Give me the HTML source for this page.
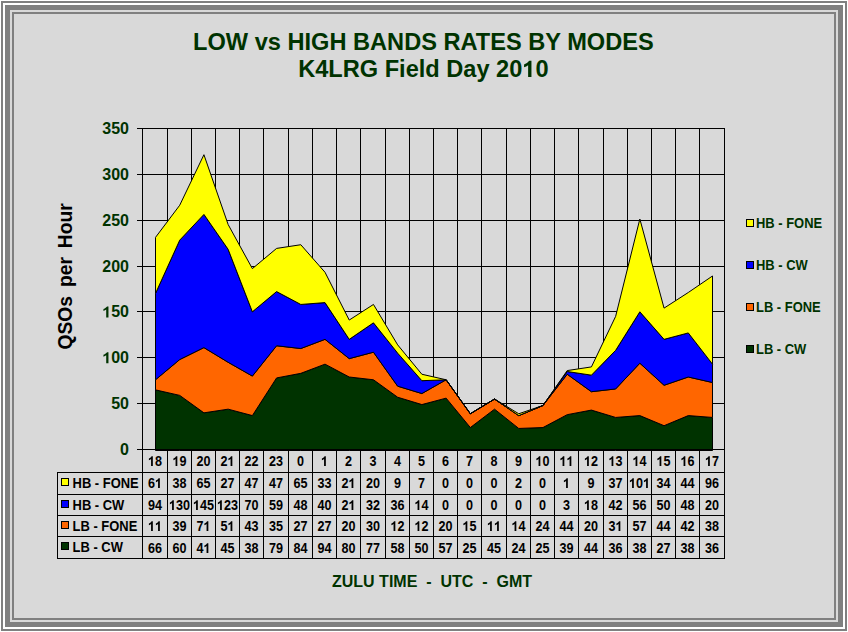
<!DOCTYPE html>
<html><head><meta charset="utf-8"><style>
html,body{margin:0;padding:0;background:#fff;width:848px;height:632px;overflow:hidden}
svg{display:block}
text{font-family:"Liberation Sans",sans-serif;font-weight:bold}
</style></head><body>
<svg width="848" height="632" viewBox="0 0 848 632">
<rect x="0" y="0" width="848" height="632" fill="#fff"/>
<rect x="1" y="1" width="846" height="630" fill="#808080"/>
<rect x="3" y="3" width="842" height="626" fill="#fff"/>
<rect x="5" y="5" width="838" height="622" fill="#808080"/>
<rect x="10" y="10" width="828" height="612" fill="#d9d9d9"/>
<rect x="12" y="12" width="824" height="608" fill="#808080"/>
<rect x="14" y="14" width="820" height="604" fill="#d9d9d9"/>

<text x="423.4" y="50" text-anchor="middle" font-size="23.6" fill="#003300">LOW vs HIGH BANDS RATES BY MODES</text>
<text id="t2" x="423.4" y="77" text-anchor="middle" font-size="23.6" fill="#003300">K4LRG Field Day 20&#x2007;0</text>
<path fill="#003300" transform="translate(522.369,77) scale(0.011523,-0.011523)" d="M788 0H499V1027C400 945 280 880 146 838V1086C250 1120 380 1190 470 1280C530 1340 575 1380 604 1409H788Z"/>
<g shape-rendering="crispEdges" stroke="#000" stroke-width="1">
<line x1="137" y1="449.5" x2="725" y2="449.5"/>
<line x1="137" y1="403.5" x2="725" y2="403.5"/>
<line x1="137" y1="357.5" x2="725" y2="357.5"/>
<line x1="137" y1="311.5" x2="725" y2="311.5"/>
<line x1="137" y1="266.5" x2="725" y2="266.5"/>
<line x1="137" y1="220.5" x2="725" y2="220.5"/>
<line x1="137" y1="174.5" x2="725" y2="174.5"/>
<line x1="137" y1="128.5" x2="725" y2="128.5"/>
<line x1="142.5" y1="128" x2="142.5" y2="558"/>
<line x1="167.5" y1="128" x2="167.5" y2="558"/>
<line x1="191.5" y1="128" x2="191.5" y2="558"/>
<line x1="215.5" y1="128" x2="215.5" y2="558"/>
<line x1="239.5" y1="128" x2="239.5" y2="558"/>
<line x1="263.5" y1="128" x2="263.5" y2="558"/>
<line x1="288.5" y1="128" x2="288.5" y2="558"/>
<line x1="312.5" y1="128" x2="312.5" y2="558"/>
<line x1="336.5" y1="128" x2="336.5" y2="558"/>
<line x1="360.5" y1="128" x2="360.5" y2="558"/>
<line x1="385.5" y1="128" x2="385.5" y2="558"/>
<line x1="409.5" y1="128" x2="409.5" y2="558"/>
<line x1="433.5" y1="128" x2="433.5" y2="558"/>
<line x1="457.5" y1="128" x2="457.5" y2="558"/>
<line x1="481.5" y1="128" x2="481.5" y2="558"/>
<line x1="506.5" y1="128" x2="506.5" y2="558"/>
<line x1="530.5" y1="128" x2="530.5" y2="558"/>
<line x1="554.5" y1="128" x2="554.5" y2="558"/>
<line x1="578.5" y1="128" x2="578.5" y2="558"/>
<line x1="603.5" y1="128" x2="603.5" y2="558"/>
<line x1="627.5" y1="128" x2="627.5" y2="558"/>
<line x1="651.5" y1="128" x2="651.5" y2="558"/>
<line x1="675.5" y1="128" x2="675.5" y2="558"/>
<line x1="699.5" y1="128" x2="699.5" y2="558"/>
<line x1="724.5" y1="128" x2="724.5" y2="558"/>
</g>
<polygon points="155.50,389.87 179.72,395.38 203.93,412.84 228.15,409.16 252.37,415.59 276.59,377.93 300.80,373.34 325.02,364.15 349.24,377.01 373.46,379.77 397.67,397.22 421.89,404.57 446.11,398.14 470.33,427.54 494.54,409.16 518.76,428.45 542.98,427.54 567.20,414.67 591.41,410.08 615.63,417.43 639.85,415.59 664.07,425.70 688.28,415.59 712.50,417.43 712.50,450.50 688.28,450.50 664.07,450.50 639.85,450.50 615.63,450.50 591.41,450.50 567.20,450.50 542.98,450.50 518.76,450.50 494.54,450.50 470.33,450.50 446.11,450.50 421.89,450.50 397.67,450.50 373.46,450.50 349.24,450.50 325.02,450.50 300.80,450.50 276.59,450.50 252.37,450.50 228.15,450.50 203.93,450.50 179.72,450.50 155.50,450.50" fill="#003300" stroke="#000" stroke-width="1" stroke-linejoin="miter"/>
<polygon points="155.50,379.77 179.72,359.56 203.93,347.62 228.15,362.31 252.37,376.09 276.59,345.78 300.80,348.54 325.02,339.35 349.24,358.64 373.46,352.21 397.67,386.20 421.89,393.55 446.11,379.77 470.33,413.76 494.54,399.06 518.76,415.59 542.98,405.49 567.20,374.26 591.41,391.71 615.63,388.95 639.85,363.23 664.07,385.28 688.28,377.01 712.50,382.52 712.50,417.43 688.28,415.59 664.07,425.70 639.85,415.59 615.63,417.43 591.41,410.08 567.20,414.67 542.98,427.54 518.76,428.45 494.54,409.16 470.33,427.54 446.11,398.14 421.89,404.57 397.67,397.22 373.46,379.77 349.24,377.01 325.02,364.15 300.80,373.34 276.59,377.93 252.37,415.59 228.15,409.16 203.93,412.84 179.72,395.38 155.50,389.87" fill="#ff6600" stroke="#000" stroke-width="1" stroke-linejoin="miter"/>
<polygon points="155.50,293.42 179.72,240.14 203.93,214.42 228.15,249.33 252.37,311.79 276.59,291.58 300.80,304.44 325.02,302.61 349.24,339.35 373.46,322.81 397.67,353.13 421.89,380.69 446.11,379.77 470.33,413.76 494.54,399.06 518.76,415.59 542.98,405.49 567.20,371.50 591.41,375.17 615.63,350.37 639.85,311.79 664.07,339.35 688.28,332.92 712.50,364.15 712.50,382.52 688.28,377.01 664.07,385.28 639.85,363.23 615.63,388.95 591.41,391.71 567.20,374.26 542.98,405.49 518.76,415.59 494.54,399.06 470.33,413.76 446.11,379.77 421.89,393.55 397.67,386.20 373.46,352.21 349.24,358.64 325.02,339.35 300.80,348.54 276.59,345.78 252.37,376.09 228.15,362.31 203.93,347.62 179.72,359.56 155.50,379.77" fill="#0000ff" stroke="#000" stroke-width="1" stroke-linejoin="miter"/>
<polygon points="155.50,237.38 179.72,205.23 203.93,154.71 228.15,224.52 252.37,268.62 276.59,248.41 300.80,244.73 325.02,272.29 349.24,320.06 373.46,304.44 397.67,344.86 421.89,374.26 446.11,379.77 470.33,413.76 494.54,399.06 518.76,413.76 542.98,405.49 567.20,370.58 591.41,366.91 615.63,316.38 639.85,219.01 664.07,308.12 688.28,292.50 712.50,275.97 712.50,364.15 688.28,332.92 664.07,339.35 639.85,311.79 615.63,350.37 591.41,375.17 567.20,371.50 542.98,405.49 518.76,415.59 494.54,399.06 470.33,413.76 446.11,379.77 421.89,380.69 397.67,353.13 373.46,322.81 349.24,339.35 325.02,302.61 300.80,304.44 276.59,291.58 252.37,311.79 228.15,249.33 203.93,214.42 179.72,240.14 155.50,293.42" fill="#ffff00" stroke="#000" stroke-width="1" stroke-linejoin="miter"/>
<g shape-rendering="crispEdges" stroke="#000"><line x1="137" y1="449.5" x2="725" y2="449.5"/><line x1="142.5" y1="128" x2="142.5" y2="558"/></g>
<g transform="translate(129.00,455.00) scale(1,1)" fill="#003300"><text x="-8.898" y="0" font-size="16">0</text></g>
<g transform="translate(129.00,409.14) scale(1,1)" fill="#003300"><text x="-17.797" y="0" font-size="16">50</text></g>
<g transform="translate(129.00,363.29) scale(1,1)" fill="#003300"><text x="-26.695" y="0" font-size="16">&#x2007;00</text><path transform="translate(-26.695,0) scale(0.007812,-0.007812)" d="M788 0H499V1027C400 945 280 880 146 838V1086C250 1120 380 1190 470 1280C530 1340 575 1380 604 1409H788Z"/></g>
<g transform="translate(129.00,317.43) scale(1,1)" fill="#003300"><text x="-26.695" y="0" font-size="16">&#x2007;50</text><path transform="translate(-26.695,0) scale(0.007812,-0.007812)" d="M788 0H499V1027C400 945 280 880 146 838V1086C250 1120 380 1190 470 1280C530 1340 575 1380 604 1409H788Z"/></g>
<g transform="translate(129.00,271.57) scale(1,1)" fill="#003300"><text x="-26.695" y="0" font-size="16">200</text></g>
<g transform="translate(129.00,225.71) scale(1,1)" fill="#003300"><text x="-26.695" y="0" font-size="16">250</text></g>
<g transform="translate(129.00,179.86) scale(1,1)" fill="#003300"><text x="-26.695" y="0" font-size="16">300</text></g>
<g transform="translate(129.00,134.00) scale(1,1)" fill="#003300"><text x="-26.695" y="0" font-size="16">350</text></g>
<text transform="translate(71.6,322.8) rotate(-90)" text-anchor="middle" font-size="19.3" fill="#000">QSOs</text>
<text transform="translate(71.6,272.1) rotate(-90)" text-anchor="middle" font-size="19.3" fill="#000">per</text>
<text transform="translate(71.6,225.8) rotate(-90)" text-anchor="middle" font-size="19.3" fill="#000">Hour</text>
<g shape-rendering="crispEdges" stroke="#000" stroke-width="1">
<line x1="57" y1="472.5" x2="725" y2="472.5"/>
<line x1="57" y1="494.5" x2="725" y2="494.5"/>
<line x1="57" y1="515.5" x2="725" y2="515.5"/>
<line x1="57" y1="536.5" x2="725" y2="536.5"/>
<line x1="57" y1="558.5" x2="725" y2="558.5"/>
<line x1="57.5" y1="472" x2="57.5" y2="559"/>
</g>
<g transform="translate(155.00,466.00) scale(0.9,1)" fill="#000"><text x="-7.786" y="0" font-size="14">&#x2007;8</text><path transform="translate(-7.786,0) scale(0.006836,-0.006836)" d="M788 0H499V1027C400 945 280 880 146 838V1086C250 1120 380 1190 470 1280C530 1340 575 1380 604 1409H788Z"/></g>
<g transform="translate(179.50,466.00) scale(0.9,1)" fill="#000"><text x="-7.786" y="0" font-size="14">&#x2007;9</text><path transform="translate(-7.786,0) scale(0.006836,-0.006836)" d="M788 0H499V1027C400 945 280 880 146 838V1086C250 1120 380 1190 470 1280C530 1340 575 1380 604 1409H788Z"/></g>
<g transform="translate(203.50,466.00) scale(0.9,1)" fill="#000"><text x="-7.786" y="0" font-size="14">20</text></g>
<g transform="translate(227.50,466.00) scale(0.9,1)" fill="#000"><text x="-7.786" y="0" font-size="14">2&#x2007;</text><path transform="translate(0.000,0) scale(0.006836,-0.006836)" d="M788 0H499V1027C400 945 280 880 146 838V1086C250 1120 380 1190 470 1280C530 1340 575 1380 604 1409H788Z"/></g>
<g transform="translate(251.50,466.00) scale(0.9,1)" fill="#000"><text x="-7.786" y="0" font-size="14">22</text></g>
<g transform="translate(276.00,466.00) scale(0.9,1)" fill="#000"><text x="-7.786" y="0" font-size="14">23</text></g>
<g transform="translate(300.50,466.00) scale(0.9,1)" fill="#000"><text x="-3.893" y="0" font-size="14">0</text></g>
<g transform="translate(324.50,466.00) scale(0.9,1)" fill="#000"><text x="-3.893" y="0" font-size="14">&#x2007;</text><path transform="translate(-3.893,0) scale(0.006836,-0.006836)" d="M788 0H499V1027C400 945 280 880 146 838V1086C250 1120 380 1190 470 1280C530 1340 575 1380 604 1409H788Z"/></g>
<g transform="translate(348.50,466.00) scale(0.9,1)" fill="#000"><text x="-3.893" y="0" font-size="14">2</text></g>
<g transform="translate(373.00,466.00) scale(0.9,1)" fill="#000"><text x="-3.893" y="0" font-size="14">3</text></g>
<g transform="translate(397.50,466.00) scale(0.9,1)" fill="#000"><text x="-3.893" y="0" font-size="14">4</text></g>
<g transform="translate(421.50,466.00) scale(0.9,1)" fill="#000"><text x="-3.893" y="0" font-size="14">5</text></g>
<g transform="translate(445.50,466.00) scale(0.9,1)" fill="#000"><text x="-3.893" y="0" font-size="14">6</text></g>
<g transform="translate(469.50,466.00) scale(0.9,1)" fill="#000"><text x="-3.893" y="0" font-size="14">7</text></g>
<g transform="translate(494.00,466.00) scale(0.9,1)" fill="#000"><text x="-3.893" y="0" font-size="14">8</text></g>
<g transform="translate(518.50,466.00) scale(0.9,1)" fill="#000"><text x="-3.893" y="0" font-size="14">9</text></g>
<g transform="translate(542.50,466.00) scale(0.9,1)" fill="#000"><text x="-7.786" y="0" font-size="14">&#x2007;0</text><path transform="translate(-7.786,0) scale(0.006836,-0.006836)" d="M788 0H499V1027C400 945 280 880 146 838V1086C250 1120 380 1190 470 1280C530 1340 575 1380 604 1409H788Z"/></g>
<g transform="translate(566.50,466.00) scale(0.9,1)" fill="#000"><text x="-7.786" y="0" font-size="14">&#x2007;&#x2007;</text><path transform="translate(-7.786,0) scale(0.006836,-0.006836)" d="M788 0H499V1027C400 945 280 880 146 838V1086C250 1120 380 1190 470 1280C530 1340 575 1380 604 1409H788Z"/><path transform="translate(0.000,0) scale(0.006836,-0.006836)" d="M788 0H499V1027C400 945 280 880 146 838V1086C250 1120 380 1190 470 1280C530 1340 575 1380 604 1409H788Z"/></g>
<g transform="translate(591.00,466.00) scale(0.9,1)" fill="#000"><text x="-7.786" y="0" font-size="14">&#x2007;2</text><path transform="translate(-7.786,0) scale(0.006836,-0.006836)" d="M788 0H499V1027C400 945 280 880 146 838V1086C250 1120 380 1190 470 1280C530 1340 575 1380 604 1409H788Z"/></g>
<g transform="translate(615.50,466.00) scale(0.9,1)" fill="#000"><text x="-7.786" y="0" font-size="14">&#x2007;3</text><path transform="translate(-7.786,0) scale(0.006836,-0.006836)" d="M788 0H499V1027C400 945 280 880 146 838V1086C250 1120 380 1190 470 1280C530 1340 575 1380 604 1409H788Z"/></g>
<g transform="translate(639.50,466.00) scale(0.9,1)" fill="#000"><text x="-7.786" y="0" font-size="14">&#x2007;4</text><path transform="translate(-7.786,0) scale(0.006836,-0.006836)" d="M788 0H499V1027C400 945 280 880 146 838V1086C250 1120 380 1190 470 1280C530 1340 575 1380 604 1409H788Z"/></g>
<g transform="translate(663.50,466.00) scale(0.9,1)" fill="#000"><text x="-7.786" y="0" font-size="14">&#x2007;5</text><path transform="translate(-7.786,0) scale(0.006836,-0.006836)" d="M788 0H499V1027C400 945 280 880 146 838V1086C250 1120 380 1190 470 1280C530 1340 575 1380 604 1409H788Z"/></g>
<g transform="translate(687.50,466.00) scale(0.9,1)" fill="#000"><text x="-7.786" y="0" font-size="14">&#x2007;6</text><path transform="translate(-7.786,0) scale(0.006836,-0.006836)" d="M788 0H499V1027C400 945 280 880 146 838V1086C250 1120 380 1190 470 1280C530 1340 575 1380 604 1409H788Z"/></g>
<g transform="translate(712.00,466.00) scale(0.9,1)" fill="#000"><text x="-7.786" y="0" font-size="14">&#x2007;7</text><path transform="translate(-7.786,0) scale(0.006836,-0.006836)" d="M788 0H499V1027C400 945 280 880 146 838V1086C250 1120 380 1190 470 1280C530 1340 575 1380 604 1409H788Z"/></g>
<rect x="61.5" y="478.5" width="7" height="7" fill="#ffff00" stroke="#000" shape-rendering="crispEdges"/>
<text transform="translate(72.6,488) scale(0.925,1)" font-size="14" fill="#000">HB - FONE</text>
<g transform="translate(155.00,488.00) scale(0.9,1)" fill="#000"><text x="-7.786" y="0" font-size="14">6&#x2007;</text><path transform="translate(0.000,0) scale(0.006836,-0.006836)" d="M788 0H499V1027C400 945 280 880 146 838V1086C250 1120 380 1190 470 1280C530 1340 575 1380 604 1409H788Z"/></g>
<g transform="translate(179.50,488.00) scale(0.9,1)" fill="#000"><text x="-7.786" y="0" font-size="14">38</text></g>
<g transform="translate(203.50,488.00) scale(0.9,1)" fill="#000"><text x="-7.786" y="0" font-size="14">65</text></g>
<g transform="translate(227.50,488.00) scale(0.9,1)" fill="#000"><text x="-7.786" y="0" font-size="14">27</text></g>
<g transform="translate(251.50,488.00) scale(0.9,1)" fill="#000"><text x="-7.786" y="0" font-size="14">47</text></g>
<g transform="translate(276.00,488.00) scale(0.9,1)" fill="#000"><text x="-7.786" y="0" font-size="14">47</text></g>
<g transform="translate(300.50,488.00) scale(0.9,1)" fill="#000"><text x="-7.786" y="0" font-size="14">65</text></g>
<g transform="translate(324.50,488.00) scale(0.9,1)" fill="#000"><text x="-7.786" y="0" font-size="14">33</text></g>
<g transform="translate(348.50,488.00) scale(0.9,1)" fill="#000"><text x="-7.786" y="0" font-size="14">2&#x2007;</text><path transform="translate(0.000,0) scale(0.006836,-0.006836)" d="M788 0H499V1027C400 945 280 880 146 838V1086C250 1120 380 1190 470 1280C530 1340 575 1380 604 1409H788Z"/></g>
<g transform="translate(373.00,488.00) scale(0.9,1)" fill="#000"><text x="-7.786" y="0" font-size="14">20</text></g>
<g transform="translate(397.50,488.00) scale(0.9,1)" fill="#000"><text x="-3.893" y="0" font-size="14">9</text></g>
<g transform="translate(421.50,488.00) scale(0.9,1)" fill="#000"><text x="-3.893" y="0" font-size="14">7</text></g>
<g transform="translate(445.50,488.00) scale(0.9,1)" fill="#000"><text x="-3.893" y="0" font-size="14">0</text></g>
<g transform="translate(469.50,488.00) scale(0.9,1)" fill="#000"><text x="-3.893" y="0" font-size="14">0</text></g>
<g transform="translate(494.00,488.00) scale(0.9,1)" fill="#000"><text x="-3.893" y="0" font-size="14">0</text></g>
<g transform="translate(518.50,488.00) scale(0.9,1)" fill="#000"><text x="-3.893" y="0" font-size="14">2</text></g>
<g transform="translate(542.50,488.00) scale(0.9,1)" fill="#000"><text x="-3.893" y="0" font-size="14">0</text></g>
<g transform="translate(566.50,488.00) scale(0.9,1)" fill="#000"><text x="-3.893" y="0" font-size="14">&#x2007;</text><path transform="translate(-3.893,0) scale(0.006836,-0.006836)" d="M788 0H499V1027C400 945 280 880 146 838V1086C250 1120 380 1190 470 1280C530 1340 575 1380 604 1409H788Z"/></g>
<g transform="translate(591.00,488.00) scale(0.9,1)" fill="#000"><text x="-3.893" y="0" font-size="14">9</text></g>
<g transform="translate(615.50,488.00) scale(0.9,1)" fill="#000"><text x="-7.786" y="0" font-size="14">37</text></g>
<g transform="translate(639.50,488.00) scale(0.9,1)" fill="#000"><text x="-11.679" y="0" font-size="14">&#x2007;0&#x2007;</text><path transform="translate(-11.679,0) scale(0.006836,-0.006836)" d="M788 0H499V1027C400 945 280 880 146 838V1086C250 1120 380 1190 470 1280C530 1340 575 1380 604 1409H788Z"/><path transform="translate(3.893,0) scale(0.006836,-0.006836)" d="M788 0H499V1027C400 945 280 880 146 838V1086C250 1120 380 1190 470 1280C530 1340 575 1380 604 1409H788Z"/></g>
<g transform="translate(663.50,488.00) scale(0.9,1)" fill="#000"><text x="-7.786" y="0" font-size="14">34</text></g>
<g transform="translate(687.50,488.00) scale(0.9,1)" fill="#000"><text x="-7.786" y="0" font-size="14">44</text></g>
<g transform="translate(712.00,488.00) scale(0.9,1)" fill="#000"><text x="-7.786" y="0" font-size="14">96</text></g>
<rect x="61.5" y="500.5" width="7" height="7" fill="#0000ff" stroke="#000" shape-rendering="crispEdges"/>
<text transform="translate(72.6,510) scale(0.925,1)" font-size="14" fill="#000">HB - CW</text>
<g transform="translate(155.00,510.00) scale(0.9,1)" fill="#000"><text x="-7.786" y="0" font-size="14">94</text></g>
<g transform="translate(179.50,510.00) scale(0.9,1)" fill="#000"><text x="-11.679" y="0" font-size="14">&#x2007;30</text><path transform="translate(-11.679,0) scale(0.006836,-0.006836)" d="M788 0H499V1027C400 945 280 880 146 838V1086C250 1120 380 1190 470 1280C530 1340 575 1380 604 1409H788Z"/></g>
<g transform="translate(203.50,510.00) scale(0.9,1)" fill="#000"><text x="-11.679" y="0" font-size="14">&#x2007;45</text><path transform="translate(-11.679,0) scale(0.006836,-0.006836)" d="M788 0H499V1027C400 945 280 880 146 838V1086C250 1120 380 1190 470 1280C530 1340 575 1380 604 1409H788Z"/></g>
<g transform="translate(227.50,510.00) scale(0.9,1)" fill="#000"><text x="-11.679" y="0" font-size="14">&#x2007;23</text><path transform="translate(-11.679,0) scale(0.006836,-0.006836)" d="M788 0H499V1027C400 945 280 880 146 838V1086C250 1120 380 1190 470 1280C530 1340 575 1380 604 1409H788Z"/></g>
<g transform="translate(251.50,510.00) scale(0.9,1)" fill="#000"><text x="-7.786" y="0" font-size="14">70</text></g>
<g transform="translate(276.00,510.00) scale(0.9,1)" fill="#000"><text x="-7.786" y="0" font-size="14">59</text></g>
<g transform="translate(300.50,510.00) scale(0.9,1)" fill="#000"><text x="-7.786" y="0" font-size="14">48</text></g>
<g transform="translate(324.50,510.00) scale(0.9,1)" fill="#000"><text x="-7.786" y="0" font-size="14">40</text></g>
<g transform="translate(348.50,510.00) scale(0.9,1)" fill="#000"><text x="-7.786" y="0" font-size="14">2&#x2007;</text><path transform="translate(0.000,0) scale(0.006836,-0.006836)" d="M788 0H499V1027C400 945 280 880 146 838V1086C250 1120 380 1190 470 1280C530 1340 575 1380 604 1409H788Z"/></g>
<g transform="translate(373.00,510.00) scale(0.9,1)" fill="#000"><text x="-7.786" y="0" font-size="14">32</text></g>
<g transform="translate(397.50,510.00) scale(0.9,1)" fill="#000"><text x="-7.786" y="0" font-size="14">36</text></g>
<g transform="translate(421.50,510.00) scale(0.9,1)" fill="#000"><text x="-7.786" y="0" font-size="14">&#x2007;4</text><path transform="translate(-7.786,0) scale(0.006836,-0.006836)" d="M788 0H499V1027C400 945 280 880 146 838V1086C250 1120 380 1190 470 1280C530 1340 575 1380 604 1409H788Z"/></g>
<g transform="translate(445.50,510.00) scale(0.9,1)" fill="#000"><text x="-3.893" y="0" font-size="14">0</text></g>
<g transform="translate(469.50,510.00) scale(0.9,1)" fill="#000"><text x="-3.893" y="0" font-size="14">0</text></g>
<g transform="translate(494.00,510.00) scale(0.9,1)" fill="#000"><text x="-3.893" y="0" font-size="14">0</text></g>
<g transform="translate(518.50,510.00) scale(0.9,1)" fill="#000"><text x="-3.893" y="0" font-size="14">0</text></g>
<g transform="translate(542.50,510.00) scale(0.9,1)" fill="#000"><text x="-3.893" y="0" font-size="14">0</text></g>
<g transform="translate(566.50,510.00) scale(0.9,1)" fill="#000"><text x="-3.893" y="0" font-size="14">3</text></g>
<g transform="translate(591.00,510.00) scale(0.9,1)" fill="#000"><text x="-7.786" y="0" font-size="14">&#x2007;8</text><path transform="translate(-7.786,0) scale(0.006836,-0.006836)" d="M788 0H499V1027C400 945 280 880 146 838V1086C250 1120 380 1190 470 1280C530 1340 575 1380 604 1409H788Z"/></g>
<g transform="translate(615.50,510.00) scale(0.9,1)" fill="#000"><text x="-7.786" y="0" font-size="14">42</text></g>
<g transform="translate(639.50,510.00) scale(0.9,1)" fill="#000"><text x="-7.786" y="0" font-size="14">56</text></g>
<g transform="translate(663.50,510.00) scale(0.9,1)" fill="#000"><text x="-7.786" y="0" font-size="14">50</text></g>
<g transform="translate(687.50,510.00) scale(0.9,1)" fill="#000"><text x="-7.786" y="0" font-size="14">48</text></g>
<g transform="translate(712.00,510.00) scale(0.9,1)" fill="#000"><text x="-7.786" y="0" font-size="14">20</text></g>
<rect x="61.5" y="521.5" width="7" height="7" fill="#ff6600" stroke="#000" shape-rendering="crispEdges"/>
<text transform="translate(72.6,531) scale(0.925,1)" font-size="14" fill="#000">LB - FONE</text>
<g transform="translate(155.00,531.00) scale(0.9,1)" fill="#000"><text x="-7.786" y="0" font-size="14">&#x2007;&#x2007;</text><path transform="translate(-7.786,0) scale(0.006836,-0.006836)" d="M788 0H499V1027C400 945 280 880 146 838V1086C250 1120 380 1190 470 1280C530 1340 575 1380 604 1409H788Z"/><path transform="translate(0.000,0) scale(0.006836,-0.006836)" d="M788 0H499V1027C400 945 280 880 146 838V1086C250 1120 380 1190 470 1280C530 1340 575 1380 604 1409H788Z"/></g>
<g transform="translate(179.50,531.00) scale(0.9,1)" fill="#000"><text x="-7.786" y="0" font-size="14">39</text></g>
<g transform="translate(203.50,531.00) scale(0.9,1)" fill="#000"><text x="-7.786" y="0" font-size="14">7&#x2007;</text><path transform="translate(0.000,0) scale(0.006836,-0.006836)" d="M788 0H499V1027C400 945 280 880 146 838V1086C250 1120 380 1190 470 1280C530 1340 575 1380 604 1409H788Z"/></g>
<g transform="translate(227.50,531.00) scale(0.9,1)" fill="#000"><text x="-7.786" y="0" font-size="14">5&#x2007;</text><path transform="translate(0.000,0) scale(0.006836,-0.006836)" d="M788 0H499V1027C400 945 280 880 146 838V1086C250 1120 380 1190 470 1280C530 1340 575 1380 604 1409H788Z"/></g>
<g transform="translate(251.50,531.00) scale(0.9,1)" fill="#000"><text x="-7.786" y="0" font-size="14">43</text></g>
<g transform="translate(276.00,531.00) scale(0.9,1)" fill="#000"><text x="-7.786" y="0" font-size="14">35</text></g>
<g transform="translate(300.50,531.00) scale(0.9,1)" fill="#000"><text x="-7.786" y="0" font-size="14">27</text></g>
<g transform="translate(324.50,531.00) scale(0.9,1)" fill="#000"><text x="-7.786" y="0" font-size="14">27</text></g>
<g transform="translate(348.50,531.00) scale(0.9,1)" fill="#000"><text x="-7.786" y="0" font-size="14">20</text></g>
<g transform="translate(373.00,531.00) scale(0.9,1)" fill="#000"><text x="-7.786" y="0" font-size="14">30</text></g>
<g transform="translate(397.50,531.00) scale(0.9,1)" fill="#000"><text x="-7.786" y="0" font-size="14">&#x2007;2</text><path transform="translate(-7.786,0) scale(0.006836,-0.006836)" d="M788 0H499V1027C400 945 280 880 146 838V1086C250 1120 380 1190 470 1280C530 1340 575 1380 604 1409H788Z"/></g>
<g transform="translate(421.50,531.00) scale(0.9,1)" fill="#000"><text x="-7.786" y="0" font-size="14">&#x2007;2</text><path transform="translate(-7.786,0) scale(0.006836,-0.006836)" d="M788 0H499V1027C400 945 280 880 146 838V1086C250 1120 380 1190 470 1280C530 1340 575 1380 604 1409H788Z"/></g>
<g transform="translate(445.50,531.00) scale(0.9,1)" fill="#000"><text x="-7.786" y="0" font-size="14">20</text></g>
<g transform="translate(469.50,531.00) scale(0.9,1)" fill="#000"><text x="-7.786" y="0" font-size="14">&#x2007;5</text><path transform="translate(-7.786,0) scale(0.006836,-0.006836)" d="M788 0H499V1027C400 945 280 880 146 838V1086C250 1120 380 1190 470 1280C530 1340 575 1380 604 1409H788Z"/></g>
<g transform="translate(494.00,531.00) scale(0.9,1)" fill="#000"><text x="-7.786" y="0" font-size="14">&#x2007;&#x2007;</text><path transform="translate(-7.786,0) scale(0.006836,-0.006836)" d="M788 0H499V1027C400 945 280 880 146 838V1086C250 1120 380 1190 470 1280C530 1340 575 1380 604 1409H788Z"/><path transform="translate(0.000,0) scale(0.006836,-0.006836)" d="M788 0H499V1027C400 945 280 880 146 838V1086C250 1120 380 1190 470 1280C530 1340 575 1380 604 1409H788Z"/></g>
<g transform="translate(518.50,531.00) scale(0.9,1)" fill="#000"><text x="-7.786" y="0" font-size="14">&#x2007;4</text><path transform="translate(-7.786,0) scale(0.006836,-0.006836)" d="M788 0H499V1027C400 945 280 880 146 838V1086C250 1120 380 1190 470 1280C530 1340 575 1380 604 1409H788Z"/></g>
<g transform="translate(542.50,531.00) scale(0.9,1)" fill="#000"><text x="-7.786" y="0" font-size="14">24</text></g>
<g transform="translate(566.50,531.00) scale(0.9,1)" fill="#000"><text x="-7.786" y="0" font-size="14">44</text></g>
<g transform="translate(591.00,531.00) scale(0.9,1)" fill="#000"><text x="-7.786" y="0" font-size="14">20</text></g>
<g transform="translate(615.50,531.00) scale(0.9,1)" fill="#000"><text x="-7.786" y="0" font-size="14">3&#x2007;</text><path transform="translate(0.000,0) scale(0.006836,-0.006836)" d="M788 0H499V1027C400 945 280 880 146 838V1086C250 1120 380 1190 470 1280C530 1340 575 1380 604 1409H788Z"/></g>
<g transform="translate(639.50,531.00) scale(0.9,1)" fill="#000"><text x="-7.786" y="0" font-size="14">57</text></g>
<g transform="translate(663.50,531.00) scale(0.9,1)" fill="#000"><text x="-7.786" y="0" font-size="14">44</text></g>
<g transform="translate(687.50,531.00) scale(0.9,1)" fill="#000"><text x="-7.786" y="0" font-size="14">42</text></g>
<g transform="translate(712.00,531.00) scale(0.9,1)" fill="#000"><text x="-7.786" y="0" font-size="14">38</text></g>
<rect x="61.5" y="542.5" width="7" height="7" fill="#003300" stroke="#000" shape-rendering="crispEdges"/>
<text transform="translate(72.6,552) scale(0.925,1)" font-size="14" fill="#000">LB - CW</text>
<g transform="translate(155.00,553.00) scale(0.9,1)" fill="#000"><text x="-7.786" y="0" font-size="14">66</text></g>
<g transform="translate(179.50,553.00) scale(0.9,1)" fill="#000"><text x="-7.786" y="0" font-size="14">60</text></g>
<g transform="translate(203.50,553.00) scale(0.9,1)" fill="#000"><text x="-7.786" y="0" font-size="14">4&#x2007;</text><path transform="translate(0.000,0) scale(0.006836,-0.006836)" d="M788 0H499V1027C400 945 280 880 146 838V1086C250 1120 380 1190 470 1280C530 1340 575 1380 604 1409H788Z"/></g>
<g transform="translate(227.50,553.00) scale(0.9,1)" fill="#000"><text x="-7.786" y="0" font-size="14">45</text></g>
<g transform="translate(251.50,553.00) scale(0.9,1)" fill="#000"><text x="-7.786" y="0" font-size="14">38</text></g>
<g transform="translate(276.00,553.00) scale(0.9,1)" fill="#000"><text x="-7.786" y="0" font-size="14">79</text></g>
<g transform="translate(300.50,553.00) scale(0.9,1)" fill="#000"><text x="-7.786" y="0" font-size="14">84</text></g>
<g transform="translate(324.50,553.00) scale(0.9,1)" fill="#000"><text x="-7.786" y="0" font-size="14">94</text></g>
<g transform="translate(348.50,553.00) scale(0.9,1)" fill="#000"><text x="-7.786" y="0" font-size="14">80</text></g>
<g transform="translate(373.00,553.00) scale(0.9,1)" fill="#000"><text x="-7.786" y="0" font-size="14">77</text></g>
<g transform="translate(397.50,553.00) scale(0.9,1)" fill="#000"><text x="-7.786" y="0" font-size="14">58</text></g>
<g transform="translate(421.50,553.00) scale(0.9,1)" fill="#000"><text x="-7.786" y="0" font-size="14">50</text></g>
<g transform="translate(445.50,553.00) scale(0.9,1)" fill="#000"><text x="-7.786" y="0" font-size="14">57</text></g>
<g transform="translate(469.50,553.00) scale(0.9,1)" fill="#000"><text x="-7.786" y="0" font-size="14">25</text></g>
<g transform="translate(494.00,553.00) scale(0.9,1)" fill="#000"><text x="-7.786" y="0" font-size="14">45</text></g>
<g transform="translate(518.50,553.00) scale(0.9,1)" fill="#000"><text x="-7.786" y="0" font-size="14">24</text></g>
<g transform="translate(542.50,553.00) scale(0.9,1)" fill="#000"><text x="-7.786" y="0" font-size="14">25</text></g>
<g transform="translate(566.50,553.00) scale(0.9,1)" fill="#000"><text x="-7.786" y="0" font-size="14">39</text></g>
<g transform="translate(591.00,553.00) scale(0.9,1)" fill="#000"><text x="-7.786" y="0" font-size="14">44</text></g>
<g transform="translate(615.50,553.00) scale(0.9,1)" fill="#000"><text x="-7.786" y="0" font-size="14">36</text></g>
<g transform="translate(639.50,553.00) scale(0.9,1)" fill="#000"><text x="-7.786" y="0" font-size="14">38</text></g>
<g transform="translate(663.50,553.00) scale(0.9,1)" fill="#000"><text x="-7.786" y="0" font-size="14">27</text></g>
<g transform="translate(687.50,553.00) scale(0.9,1)" fill="#000"><text x="-7.786" y="0" font-size="14">38</text></g>
<g transform="translate(712.00,553.00) scale(0.9,1)" fill="#000"><text x="-7.786" y="0" font-size="14">36</text></g>
<rect x="746.5" y="219.5" width="7" height="7" fill="#ffff00" stroke="#000" shape-rendering="crispEdges"/>
<text transform="translate(756,228) scale(0.925,1)" font-size="14" fill="#003300">HB - FONE</text>
<rect x="746.5" y="261.5" width="7" height="7" fill="#0000ff" stroke="#000" shape-rendering="crispEdges"/>
<text transform="translate(756,270) scale(0.925,1)" font-size="14" fill="#003300">HB - CW</text>
<rect x="746.5" y="303.5" width="7" height="7" fill="#ff6600" stroke="#000" shape-rendering="crispEdges"/>
<text transform="translate(756,312) scale(0.925,1)" font-size="14" fill="#003300">LB - FONE</text>
<rect x="746.5" y="345.5" width="7" height="7" fill="#003300" stroke="#000" shape-rendering="crispEdges"/>
<text transform="translate(756,354) scale(0.925,1)" font-size="14" fill="#003300">LB - CW</text>
<text x="432" y="587" text-anchor="middle" font-size="16" fill="#003300" xml:space="preserve">ZULU TIME  -  UTC  -  GMT</text>
</svg></body></html>
